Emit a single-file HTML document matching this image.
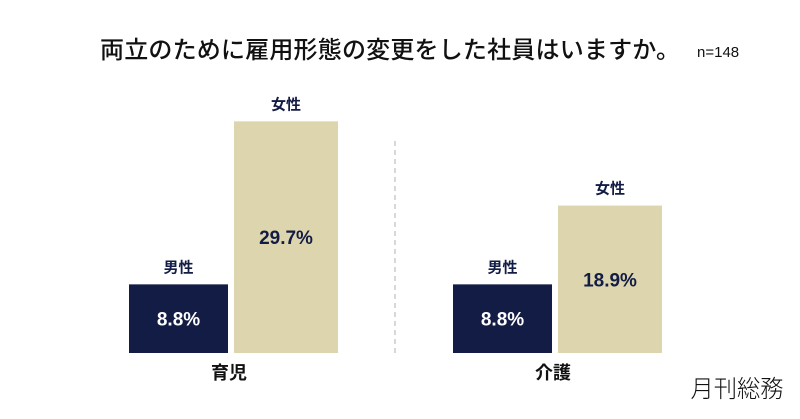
<!DOCTYPE html>
<html><head><meta charset="utf-8">
<style>
html,body{margin:0;padding:0;background:#fff;}
svg{display:block;}
text{font-family:"Liberation Sans","Noto Sans CJK JP",sans-serif;}
</style></head>
<body>
<svg id="chart" width="800" height="419" viewBox="0 0 800 419" xmlns="http://www.w3.org/2000/svg">
  <text x="100" y="58" font-size="24" textLength="580" lengthAdjust="spacing" fill="#111" style="font-family:'Noto Sans CJK JP',sans-serif;font-weight:500">両立のために雇用形態の変更をした社員はいますか。</text>
  <text x="697" y="57" font-size="15" fill="#111">n=148</text>
  <line x1="395" y1="141" x2="395" y2="353" stroke="#c8ccd4" stroke-width="1.5" stroke-dasharray="5,4"/>
  <g id="bars"></g>
  <text x="737" y="397" font-size="24" textLength="93" lengthAdjust="spacingAndGlyphs" fill="#111" text-anchor="middle" style="font-family:'Noto Sans CJK JP',sans-serif;font-weight:300">月刊総務</text>
</svg>
<script>
const categories = ["育児", "介護"];
const seriesNames = ["男性", "女性"];
const maleValues = [8.8, 8.8];
const femaleValues = [29.7, 18.9];

const NS = "http://www.w3.org/2000/svg";
const baseY = 353, pxPerPct = 7.8;
const y = v => baseY - v * pxPerPct;
const groupX = [129, 453];
const barW = [99, 104];
const barOff = [0, 105];
const colors = ["#131c45", "#ddd5ad"];
const valColors = ["#ffffff", "#131c45"];
const g = document.getElementById("bars");

function mk(tag, attrs, txt) {
  const e = document.createElementNS(NS, tag);
  for (const k in attrs) e.setAttribute(k, attrs[k]);
  if (txt !== undefined) e.textContent = txt;
  g.appendChild(e);
  return e;
}

categories.forEach((cat, i) => {
  const vals = [maleValues[i], femaleValues[i]];
  vals.forEach((v, s) => {
    const x = groupX[i] + barOff[s], w = barW[s], top = y(v);
    const r = mk("rect", {x: x, y: top, width: w, height: baseY - top, fill: colors[s]});
    
    
    const lbl = mk("text", {x: x + w / 2, y: top - 12, "text-anchor": "middle", "font-size": 15, "font-weight": "bold", fill: "#131c45"}, seriesNames[s]);
    
    
    const val = mk("text", {x: x + w / 2, y: (top + baseY) / 2 + 7, "text-anchor": "middle", "font-size": 19, "font-weight": "bold", fill: valColors[s]}, v.toFixed(1) + "%");
    
    
  });
  const c = mk("text", {x: groupX[i] + 100, y: 379, "text-anchor": "middle", "font-size": 18, "font-weight": "bold", fill: "#111"}, cat);
  
  
});
</script>
</body></html>
